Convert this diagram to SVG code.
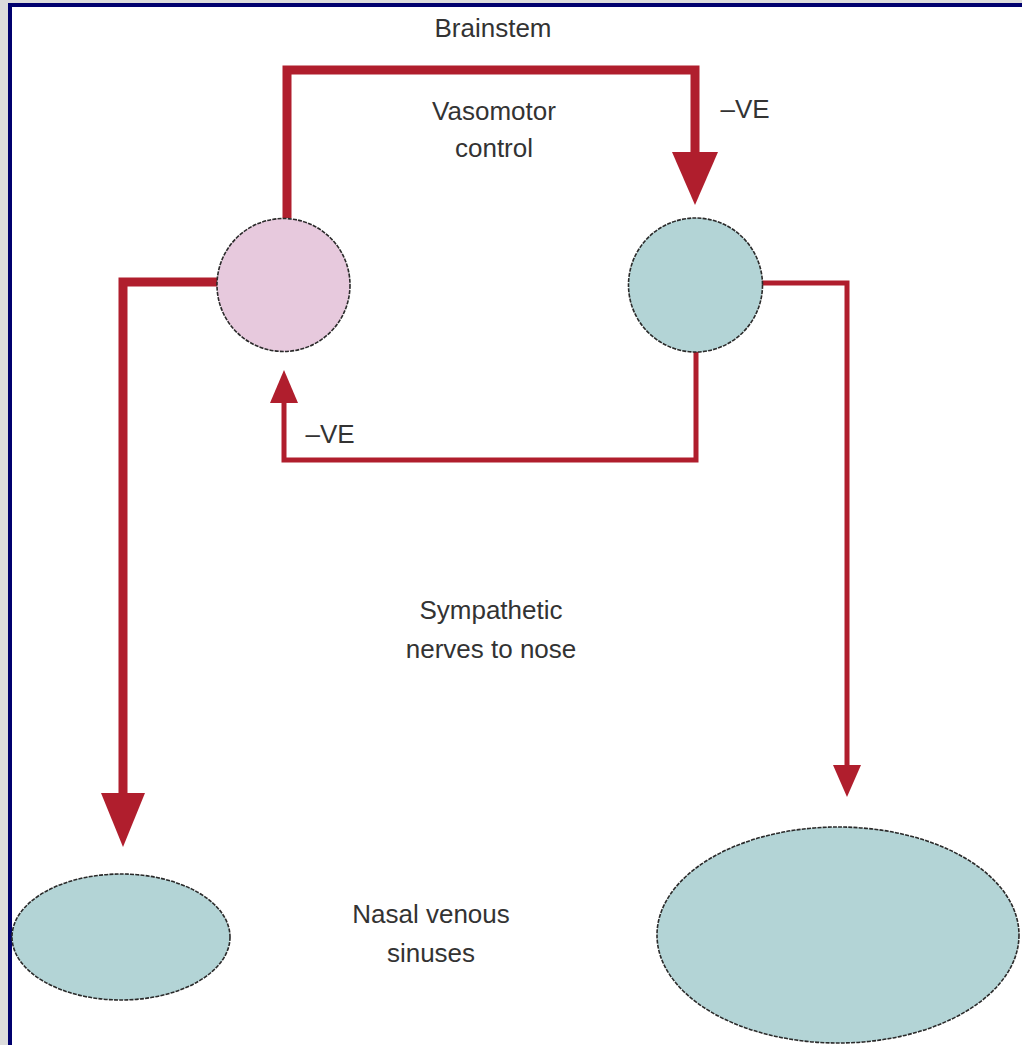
<svg xmlns="http://www.w3.org/2000/svg" width="1022" height="1045" viewBox="0 0 1022 1045">
  <style>
    .lbl { font-family: "Liberation Sans", Arial, sans-serif; font-size: 26px; fill: #333; text-anchor: middle; }
    .thick { fill: none; stroke: #b01e2d; stroke-width: 9; stroke-linejoin: miter; }
    .thin { fill: none; stroke: #b01e2d; stroke-width: 5; stroke-linejoin: miter; }
    .head { fill: #b01e2d; }
    .node { stroke: #2a2a2a; stroke-width: 1.6; stroke-dasharray: 4 1.2; }
    .pink { fill: #e7c9dd; }
    .teal { fill: #b3d4d6; }
  </style>
  <rect x="0" y="0" width="1022" height="1045" fill="#dcdcdc"/>
  <rect x="8" y="3" width="1014" height="1042" fill="#00006e"/>
  <rect x="12" y="7" width="1010" height="1038" fill="#ffffff"/>

  <g id="connectors">
    <path class="thick" d="M287 218 V70 H695 V154"/>
    <polygon class="head" points="672,152 718,152 695,205"/>
    <path class="thin" d="M696 352 V460 H284 V401"/>
    <polygon class="head" points="270,403 298,403 284,370"/>
    <path class="thin" d="M762 283 H847 V767"/>
    <polygon class="head" points="833,765 861,765 847,797"/>
    <path class="thick" d="M217 282 H123 V795"/>
    <polygon class="head" points="101,793 145,793 123,847"/>
  </g>

  <g id="node-pink-circle">
    <circle class="node pink" cx="283.5" cy="285" r="66.5"/>
  </g>
  <g id="node-teal-circle">
    <circle class="node teal" cx="695.5" cy="285" r="67"/>
  </g>
  <g id="node-left-sinus">
    <ellipse class="node teal" cx="121" cy="937" rx="109" ry="63"/>
  </g>
  <g id="node-right-sinus">
    <ellipse class="node teal" cx="838" cy="935" rx="181" ry="108"/>
  </g>

  <g id="labels">
    <text class="lbl" x="493" y="37">Brainstem</text>
    <text class="lbl" x="494" y="120">Vasomotor</text>
    <text class="lbl" x="494" y="157">control</text>
    <text class="lbl" x="745" y="118">–VE</text>
    <text class="lbl" x="330" y="443">–VE</text>
    <text class="lbl" x="491" y="619">Sympathetic</text>
    <text class="lbl" x="491" y="658">nerves to nose</text>
    <text class="lbl" x="431" y="923">Nasal venous</text>
    <text class="lbl" x="431" y="962">sinuses</text>
  </g>
</svg>
